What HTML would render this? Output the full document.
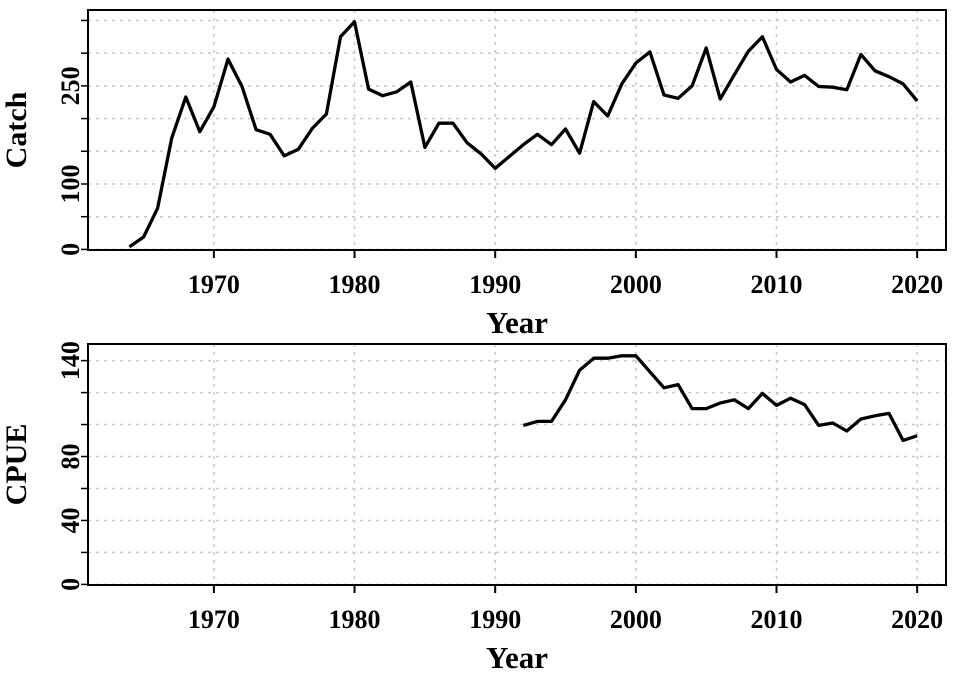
<!DOCTYPE html>
<html><head><meta charset="utf-8"><style>
html,body{margin:0;padding:0;background:#fff;}
svg text{font-family:"Liberation Serif",serif;font-weight:bold;fill:#000;}
</style></head><body>
<svg id="c" width="960" height="672" xmlns="http://www.w3.org/2000/svg"></svg>
<script>
const catchYears=[1964,1965,1966,1967,1968,1969,1970,1971,1972,1973,1974,1975,1976,1977,1978,1979,1980,1981,1982,1983,1984,1985,1986,1987,1988,1989,1990,1991,1992,1993,1994,1995,1996,1997,1998,1999,2000,2001,2002,2003,2004,2005,2006,2007,2008,2009,2010,2011,2012,2013,2014,2015,2016,2017,2018,2019,2020];
const catchValues=[4,19,63,170,233,180,218,291,249,183,176,143,153,185,207,325,348,245,235,241,256,156,193,193,163,146,124,142,160,176,160,184,147,226,204,253,285,302,236,231,250,308,230,267,303,325,275,256,266,249,248,244,298,273,264,253,227];
const cpueYears=[1992,1993,1994,1995,1996,1997,1998,1999,2000,2001,2002,2003,2004,2005,2006,2007,2008,2009,2010,2011,2012,2013,2014,2015,2016,2017,2018,2019,2020];
const cpueValues=[99.5,102,102,115.5,134,141.5,141.5,143,143,133,123,125,110,110,113.5,115.5,110,119.5,112,116.5,112.5,99.5,101,96,103.5,105.5,107,90,93];
const xTicks=[1970,1980,1990,2000,2010,2020];
const catchYTicks=[0,50,100,150,200,250,300,350];
const catchYLabels=[0,100,250];
const cpueYTicks=[0,20,40,60,80,100,120,140];
const cpueYLabels=[0,40,80,140];

const NS="http://www.w3.org/2000/svg";
const svg=document.getElementById('c');
function mk(t,a,p){const e=document.createElementNS(NS,t);for(const k in a)e.setAttribute(k,a[k]);(p||svg).appendChild(e);return e;}
const X0=88,X1=946,yr0=1961.05,yr1=2022.05;
const xs=v=>X0+(v-yr0)/(yr1-yr0)*(X1-X0);

function panel(name,top,bot,ymax,yT,yL,yrs,vals,ylab){
  const g=mk('g',{});
  
  
  const ys=v=>bot-0.6-v/ymax*(bot-0.6-top);
  yT.forEach(t=>{const l=mk('line',{x1:X0,x2:X1,y1:ys(t),y2:ys(t),stroke:'#c8c8c8','stroke-width':1.5,'stroke-dasharray':'3,5'},g);
    
    const tk=mk('line',{x1:X0-7,x2:X0,y1:ys(t),y2:ys(t),stroke:'#000','stroke-width':1.5},g);
    });
  xTicks.forEach(t=>{const l=mk('line',{x1:xs(t),x2:xs(t),y1:top,y2:bot,stroke:'#c8c8c8','stroke-width':1.5,'stroke-dasharray':'3,5'},g);
    
    const tk=mk('line',{x1:xs(t),x2:xs(t),y1:bot,y2:bot+8,stroke:'#000','stroke-width':2},g);
    
    const tx=mk('text',{x:xs(t),y:bot+43,'text-anchor':'middle','font-size':26},g);tx.textContent=t;
    });
  yL.forEach(t=>{const y=ys(t);const tx=mk('text',{x:0,y:0,transform:`translate(79,${y}) rotate(-90)`,'text-anchor':'middle','font-size':26},g);tx.textContent=t;
    });
  const b=mk('rect',{x:X0,y:top,width:X1-X0,height:bot-top,fill:'none',stroke:'#000','stroke-width':2},g);
  
  const pts=yrs.map((y,i)=>xs(y).toFixed(1)+','+ys(vals[i]).toFixed(1)).join(' ');
  const pl=mk('polyline',{points:pts,fill:'none',stroke:'#000','stroke-width':3.3,'stroke-linejoin':'round'},g);
  
  const xt=mk('text',{x:(X0+X1)/2,y:bot+83,'text-anchor':'middle','font-size':31},g);xt.textContent='Year';
  
  const yt=mk('text',{x:0,y:0,transform:`translate(26,${(top+bot)/2}) rotate(-90)`,'text-anchor':'middle','font-size':30},g);yt.textContent=ylab;
  
}
panel('catch',10,250,366,catchYTicks,catchYLabels,catchYears,catchValues,'Catch');
panel('cpue',344,585,150.4,cpueYTicks,cpueYLabels,cpueYears,cpueValues,'CPUE');
</script>
</body></html>
